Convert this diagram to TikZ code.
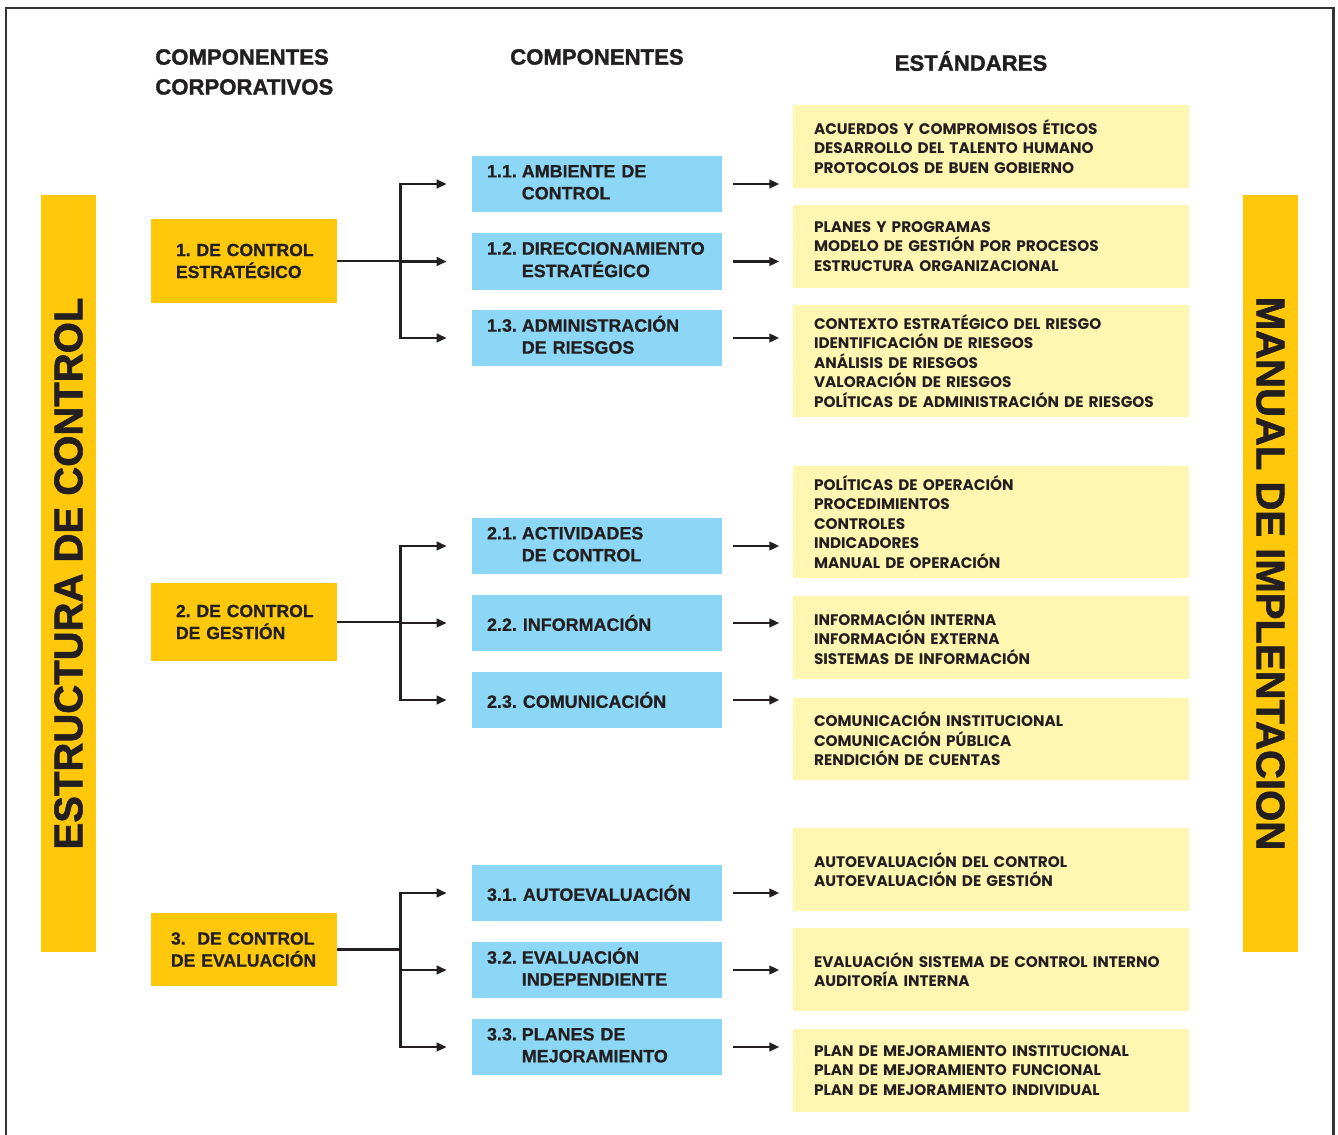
\documentclass[tikz,border=0pt]{standalone}
\usepackage{fontspec}
\setmainfont{Liberation Sans}
\newfontfamily\heavyfont[FakeBold=1.5]{Liberation Sans Bold}
\newfontfamily\boxfont[FakeBold=0.8]{Liberation Sans Bold}
\newfontfamily\stdfont{Poppins}
\usetikzlibrary{arrows.meta}
\frenchspacing
\definecolor{gold}{HTML}{FFC80B}
\definecolor{sky}{HTML}{8DD7F6}
\definecolor{cream}{HTML}{FFF6B2}
\definecolor{ink}{HTML}{231F20}
\definecolor{framegray}{HTML}{333333}
\newcommand\itemno[3]{\begin{tabular}{@{}l@{\hspace{2.8pt}}l@{}}#1&#2\\&#3\end{tabular}}
\begin{document}
\begin{tikzpicture}[x=0.02cm,y=-0.02cm,
 corp/.style={fill=gold,text=ink,font=\boxfont\fontsize{10}{12.5}\selectfont,minimum width=3.72cm,text width=2.72cm,inner xsep=0.5cm,align=left},
 comp/.style={fill=sky,text=ink,font=\boxfont\fontsize{10.2}{12.5}\selectfont,minimum width=5cm,minimum height=1.12cm,text width=4.4cm,inner xsep=0.3cm,align=left},
 std/.style={fill=cream,text=ink,font=\stdfont\fontsize{8.7}{11.1}\selectfont\bfseries,minimum width=7.92cm,text width=7.08cm,inner xsep=0.42cm,align=left},
 bar/.style={fill=gold,text=ink,font=\heavyfont\fontsize{22.8}{27}\selectfont,minimum width=15.14cm,minimum height=1.1cm},
 head/.style={text=ink,font=\heavyfont\fontsize{12.6}{17}\selectfont,inner sep=0pt,align=left},
 arr/.style={-{Triangle[length=0.2cm,width=0.17cm]},line width=1.4pt,draw=ink}]
 \useasboundingbox (0,0) rectangle (1338,1135);
 \draw[framegray,line width=1.7pt] (6,1135) -- (6,8) -- (1333,8) -- (1333,1135);
 \node[head,anchor=west] (hcorp) at (155,72) {COMPONENTES\\CORPORATIVOS};
 \node[head] (hcomp) at (597,57) {COMPONENTES};
 \node[head] (hstd) at (971,61) {ESTÁNDARES};
 \node[bar,rotate=90] (lbar) at (68.5,573.5) {ESTRUCTURA DE CONTROL};
 \node[bar,rotate=-90] (rbar) at (1270.5,573.5) {MANUAL DE IMPLENTACION};
 \node[corp,minimum height=1.68cm] (c1) at (244,261) {\mbox{1. DE CONTROL}\\\mbox{ESTRATÉGICO}};
 \node[corp,minimum height=1.56cm] (c2) at (244,622) {\mbox{2. DE CONTROL}\\\mbox{DE GESTIÓN}};
 \node[corp,minimum height=1.46cm,inner xsep=0.4cm,text width=2.92cm] (c3) at (244,949.5) {\mbox{3.\ \ DE CONTROL}\\\mbox{DE EVALUACIÓN}};
 \node[comp] (b11) at (597,184) {\itemno{1.1.}{AMBIENTE DE}{CONTROL}};
 \node[comp] (b12) at (597,261.5) {\itemno{1.2.}{DIRECCIONAMIENTO}{ESTRATÉGICO}};
 \node[comp] (b13) at (597,338) {\itemno{1.3.}{ADMINISTRACIÓN}{DE RIESGOS}};
 \node[comp] (b21) at (597,546) {\itemno{2.1.}{ACTIVIDADES}{DE CONTROL}};
 \node[comp] (b22) at (597,623) {2.2. INFORMACIÓN};
 \node[comp] (b23) at (597,700) {2.3. COMUNICACIÓN};
 \node[comp] (b31) at (597,893) {3.1. AUTOEVALUACIÓN};
 \node[comp] (b32) at (597,970) {\itemno{3.2.}{EVALUACIÓN}{INDEPENDIENTE}};
 \node[comp] (b33) at (597,1047) {\itemno{3.3.}{PLANES DE}{MEJORAMIENTO}};
 \node[std,minimum height=1.66cm] (s11) at (991,146.5) {ACUERDOS Y COMPROMISOS ÉTICOS\\DESARROLLO DEL TALENTO HUMANO\\PROTOCOLOS DE BUEN GOBIERNO};
 \node[std,minimum height=1.66cm] (s12) at (991,246.5) {PLANES Y PROGRAMAS\\MODELO DE GESTIÓN POR PROCESOS\\ESTRUCTURA ORGANIZACIONAL};
 \node[std,minimum height=2.24cm] (s13) at (991,361) {CONTEXTO ESTRATÉGICO DEL RIESGO\\IDENTIFICACIÓN DE RIESGOS\\ANÁLISIS DE RIESGOS\\VALORACIÓN DE RIESGOS\\POLÍTICAS DE ADMINISTRACIÓN DE RIESGOS};
 \node[std,minimum height=2.24cm] (s21) at (991,522) {POLÍTICAS DE OPERACIÓN\\PROCEDIMIENTOS\\CONTROLES\\INDICADORES\\MANUAL DE OPERACIÓN};
 \node[std,minimum height=1.66cm] (s22) at (991,637.5) {INFORMACIÓN INTERNA\\INFORMACIÓN EXTERNA\\SISTEMAS DE INFORMACIÓN};
 \node[std,minimum height=1.64cm] (s23) at (991,739) {COMUNICACIÓN INSTITUCIONAL\\COMUNICACIÓN PÚBLICA\\RENDICIÓN DE CUENTAS};
 \node[std,minimum height=1.66cm] (s31) at (991,869.5) {AUTOEVALUACIÓN DEL CONTROL\\AUTOEVALUACIÓN DE GESTIÓN};
 \node[std,minimum height=1.66cm] (s32) at (991,969.5) {EVALUACIÓN SISTEMA DE CONTROL INTERNO\\AUDITORÍA INTERNA};
 \node[std,minimum height=1.66cm] (s33) at (991,1070.5) {PLAN DE MEJORAMIENTO INSTITUCIONAL\\PLAN DE MEJORAMIENTO FUNCIONAL\\PLAN DE MEJORAMIENTO INDIVIDUAL};
 \foreach \c in {1,2,3} {
  \path (c\c.east) ++(63,0) coordinate (j\c);
  \draw[ink,line width=1.4pt] (c\c.east) -- (j\c);
  \foreach \k in {1,2,3}
   \draw[arr,shorten >=0.5cm] (j\c) |- (b\c\k.west);
 }
 \foreach \b in {b11,b12,b13,b21,b22,b23,b31,b32,b33}
  \draw[arr,shorten <=0.22cm] (\b.east) -- ++(57,0);
\end{tikzpicture}
\end{document}
